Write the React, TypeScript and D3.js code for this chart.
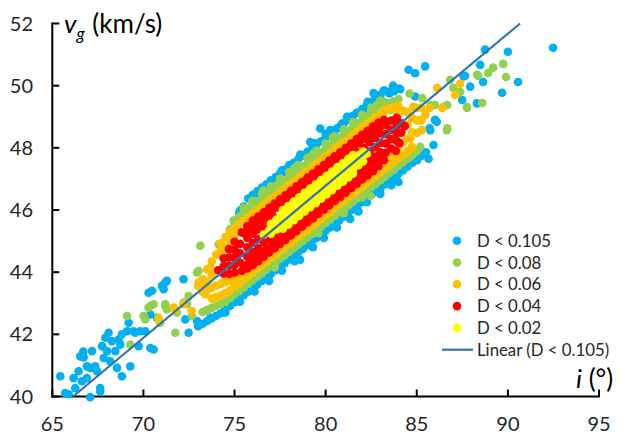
import React from 'react';
import * as d3 from 'd3';

type Pt = [number, number];

// axis ticks
const xTicks = [65, 70, 75, 80, 85, 90, 95];
const yTicks = [40, 42, 44, 46, 48, 50, 52];

// D < 0.105 (outer ring + tails)
const blue: Pt[] = [
  [75.25,45.91],[75.5,46.11],[75.75,46.37],[76,46.49],[76.25,46.6],[76.5,46.72],[76.75,46.83],[77,46.95],[77.25,47.06],[77.5,47.18],[77.75,47.29],[78,47.41],[78.25,47.52],[78.5,47.64],[78.75,47.75],[79,47.87],[79.25,47.98],[79.5,48.1],[79.75,48.21],[80,48.33],[80.25,48.44],[80.5,48.56],[80.75,48.67],[81,48.79],[81.25,48.9],[81.5,49.02],[81.75,49.13],[82,49.25],[82.25,49.36],[82.5,49.48],[82.75,49.59],[83,49.71],[83.25,49.82],[83.5,49.75],[83.75,49.82],[84,49.9],
  [73,42.26],[73.25,42.34],[73.5,42.43],[73.75,42.51],[74,42.6],[74.25,42.68],[74.5,42.8],[74.75,42.91],[75,43.03],[75.25,43.14],[75.5,43.26],[75.75,43.37],[76,43.49],[76.25,43.6],[76.5,43.72],[76.75,43.83],[77,43.95],[77.25,44.06],[77.5,44.18],[77.75,44.29],[78,44.41],[78.25,44.52],[78.5,44.64],[78.75,44.75],[79,44.87],[79.25,44.98],[79.5,45.1],[79.75,45.21],[80,45.33],[80.25,45.44],[80.5,45.56],[80.75,45.67],[81,45.79],[81.25,45.9],[81.5,46.02],[81.75,46.13],[82,46.25],[82.25,46.36],[82.5,46.48],[82.75,46.59],[83,46.71],[83.25,46.82],[83.5,46.94],[83.75,47.05],[84,47.17],[84.25,47.28],[84.5,47.4],[84.75,47.51],[85,47.63],[85.25,47.74],[85.5,47.86],
  [77.6,47.28],[78.24,47.49],[79.15,48.19],[79.7,48.62],[81.17,49.0],[80.25,48.57],[80.62,48.62],[81.35,49.0],[82.08,49.16],[82.54,49.43],[82.63,49.76],[82.99,49.65],[83.54,49.81],[84.09,49.89],[77,46.95],[78,47.45],[78.6,47.78],[79.4,48.15],[80,48.45],[80.9,48.78],[81.7,49.13],[82.3,49.48],[83.2,49.85],[83.7,50.0],[75.31,45.98],[76.41,46.47],[77.69,47.22],
  [78.3,44.35],[78.6,44.4],[80.62,45.44],[81.35,45.71],[82.26,46.25],[83,46.52],[82.9,46.68],[84,46.9],[82.99,46.63],[85.01,47.6],[85.65,47.65],[85.92,48.09],[74.5,42.7],[75.3,43.05],[76.1,43.38],[76.9,43.72],[77.6,44.05],[79.3,44.8],[79.9,45.1],[81.8,45.95],[83.6,46.8],[73.67,42.53],[74.31,42.97],
  [84.55,50.51],[84.91,50.4],[85.46,50.62],[84.91,49.65],[87.57,50.3],[87.93,49.97],[88.3,49.43],[86.1,48.84],[85.74,48.57],[88.75,51.16],[90,51.09],[92.48,51.22],[88.48,50.67],[87.65,50.32],[88.64,50.12],[90.56,50.12],[89.68,49.77],[87.49,49.54],[86,48.9],[85.7,48.63],
  [65.44,40.65],[65.71,40.11],[66.17,40.59],[66.26,40.27],[66.44,40.81],[66.63,40.49],[66.72,41.26],[66.9,40.97],[66.9,40.59],[67.08,40.92],[67.18,41.46],[67.36,40.97],[67.45,40.81],[67.63,40.27],[67.73,41.62],[67.82,41.24],[67.91,41.89],[68,41.46],[68.09,42.05],[68.18,41.13],[68.27,41.78],[68.46,41.46],[68.55,40.92],[68.64,41.83],[68.73,41.67],[68.82,40.65],[68.82,42],[69.1,42.1],[69.19,42.37],[69.28,40.97],[69.46,42.1],[69.55,42.05],[69.74,41.62],[69.83,42.1],[70.1,42.1],[70.28,43.34],[70.38,41.56],[70.56,41.51],[70.74,42.53],[71.02,43.56],[71.2,43.67],[71.29,43.72],[72.2,43.77],[72.3,42.48],[72.48,42.05],[72.94,42.43],[65.9,40.07],[67.08,39.98],[67.63,40.16],[66.54,41.29],[66.7,41.45],[71.11,43.45],[70.47,43.4],[70.38,42.64],
];

// D < 0.08
const green: Pt[] = [
  [74.75,45.38],[75,45.58],[75.25,45.79],[75.5,45.91],[75.75,46.02],[76,46.14],[76.25,46.25],[76.5,46.37],[76.75,46.48],[77,46.6],[77.25,46.71],[77.5,46.83],[77.75,46.94],[78,47.06],[78.25,47.17],[78.5,47.29],[78.75,47.4],[79,47.52],[79.25,47.63],[79.5,47.75],[79.75,47.86],[80,47.98],[80.25,48.09],[80.5,48.21],[80.75,48.32],[81,48.44],[81.25,48.55],[81.5,48.67],[81.75,48.78],[82,48.9],[82.25,49.01],[82.5,49.13],[82.75,49.24],[83,49.36],[83.25,49.47],[83.5,49.44],[83.75,49.5],[84,49.57],
  [75.5,46.07],[76,46.3],[76.5,46.53],[77,46.76],[77.5,46.99],[78,47.22],[78.5,47.45],[79,47.68],[79.5,47.91],[80,48.14],[80.5,48.37],[81,48.6],[81.5,48.83],[82,49.06],[82.5,49.29],[83,49.52],
  [73.25,42.72],[73.5,42.79],[73.75,42.85],[74,42.92],[74.25,42.98],[74.5,43.05],[74.75,43.16],[75,43.28],[75.25,43.39],[75.5,43.51],[75.75,43.62],[76,43.74],[76.25,43.85],[76.5,43.97],[76.75,44.08],[77,44.2],[77.25,44.31],[77.5,44.43],[77.75,44.54],[78,44.66],[78.25,44.77],[78.5,44.89],[78.75,45],[79,45.12],[79.25,45.23],[79.5,45.35],[79.75,45.46],[80,45.58],[80.25,45.69],[80.5,45.81],[80.75,45.92],[81,46.04],[81.25,46.15],[81.5,46.27],[81.75,46.38],[82,46.5],[82.25,46.61],[82.5,46.73],[82.75,46.84],[83,46.96],[83.25,47.07],[83.5,47.19],[83.75,47.3],[84,47.42],[84.25,47.53],[84.5,47.65],[84.75,47.76],[85,47.88],
  [76.59,46.63],[77.51,47.01],[74.95,45.66],[78.3,47.35],[79.3,47.8],[80.4,48.33],[81.5,48.82],[77.2,44.15],[79.6,45.25],[81,45.9],[82.0,46.4],[82.45,46.45],[84.64,47.71],[85.19,48.03],[75.95,46.25],[75.68,45.77],[77.33,46.79],[82.81,49.38],[83.54,49.22],
  [85.74,49.38],[86.47,49.32],[86.65,48.57],[87.29,49.76],[87.75,49.32],[88.3,50.35],[89.74,50.7],[89.19,50.58],[88.92,50.41],[88.37,50.32],[89.9,50.28],[86.83,50.19],[87,49.93],[87.38,49.8],[88.59,49.44],[87.76,49.28],[86,49.38],[86.67,49.38],[86.67,48.63],[85.3,49.6],[84.6,49.75],
  [69.1,42.59],[69.28,41.67],[70.01,42.59],[70.1,42.48],[70.28,42.86],[70.38,42.91],[70.92,42.37],[71.2,42.97],[71.29,42.8],[71.75,42.05],[71.84,42.7],[72.39,42.97],[72.48,43.23],[72.66,42.59],[72.94,43.99],[73.12,44.85],[73.03,44.04],[74.13,44.9],[74.77,45.34],[70.56,42.97],[71.2,42.91],[72.21,43.02],[73.49,42.75],
];

// D < 0.06
const orange: Pt[] = [
  [74.25,44.93],[74.5,45.13],[74.75,45.31],[75,45.43],[75.25,45.54],[75.5,45.66],[75.75,45.77],[76,45.89],[76.25,46],[76.5,46.12],[76.75,46.23],[77,46.35],[77.25,46.46],[77.5,46.58],[77.75,46.69],[78,46.81],[78.25,46.92],[78.5,47.04],[78.75,47.15],[79,47.27],[79.25,47.38],[79.5,47.5],[79.75,47.61],[80,47.73],[80.25,47.84],[80.5,47.96],[80.75,48.07],[81,48.19],[81.25,48.3],[81.5,48.42],[81.75,48.53],[82,48.65],[82.25,48.76],[82.5,48.88],[82.75,48.99],[83,49.11],[83.25,49.22],[83.5,49.27],[83.75,49.3],[84,49.34],
  [73.75,43.15],[74,43.2],[74.25,43.25],[74.5,43.33],[74.75,43.41],[75,43.53],[75.25,43.64],[75.5,43.76],[75.75,43.87],[76,43.99],[76.25,44.1],[76.5,44.22],[76.75,44.33],[77,44.45],[77.25,44.56],[77.5,44.68],[77.75,44.79],[78,44.91],[78.25,45.02],[78.5,45.14],[78.75,45.25],[79,45.37],[79.25,45.48],[79.5,45.6],[79.75,45.71],[80,45.83],[80.25,45.94],[80.5,46.06],[80.75,46.17],[81,46.29],[81.25,46.4],[81.5,46.52],[81.75,46.63],[82,46.75],[82.25,46.86],[82.5,46.98],[82.75,47.09],[83,47.21],[83.25,47.32],[83.5,47.44],[83.75,47.55],[84,47.67],[84.25,47.78],[84.5,47.9],[84.75,48.01],
  [73,43.56],[73.25,43.77],[73.25,43.37],[73.5,44.09],[73.5,43.69],[73.5,43.44],[73.75,44.35],[73.75,43.9],[73.75,43.5],[74,44.57],[74,43.57],[74.25,44.63],[74.25,43.63],[74.5,44.8],[74.5,43.68],[74.75,45],[74.75,43.73],[75,45.17],[75,43.78],[75.25,45.3],[75.25,43.88],
  [74.22,44.69],[74.49,44.47],[74.77,45.17],[73.67,44.15],[73.21,43.61],[73.39,43.29],
  [83.5,47.69],[83.75,47.8],[83.75,47.9],[84,48.02],[84.25,48.18],[84.5,48.3],[84.5,48.75],[84.75,48.5],[84.75,48.96],[85,48.48],[85,48.88],[85,49.28],[85.25,48.89],[85.25,49.29],[85.5,49.21],[84.5,49.15],[84.25,49.2],[84,49.1],
  [86.12,49.93],[87.38,50.06],[87.1,49.7],[86.39,49.28],[85.7,49.28],[85.47,49.06],[85.2,48.9],[85.28,48.57],[84.64,48.3],[84.73,48.03],[83.91,49.16],[84.82,49.32],[83.18,49.11],
  [70.83,42.48],[71.75,42.8],[72.2,42.97],[72.66,42.75],[73.03,43.67],[71.66,42.86],[70.83,42.53],
];

// D < 0.04
const red: Pt[] = [
  [75.4,45.28],[75.7,45.48],[76,45.66],[76.3,45.79],[76.6,45.93],[76.9,46.07],[77.2,46.21],[77.5,46.35],[77.8,46.48],[78.1,46.62],[78.4,46.76],[78.7,46.9],[79,47.04],[79.3,47.17],[79.6,47.31],[79.9,47.45],[80.2,47.59],[80.5,47.73],[80.8,47.86],[81.1,48],[81.4,48.14],[81.7,48.28],[82,48.42],[82.3,48.55],[82.6,48.69],[82.9,48.81],[83.2,48.9],
  [75.4,44.04],[75.7,44.12],[76,44.22],[76.3,44.35],[76.6,44.49],[76.9,44.63],[77.2,44.77],[77.5,44.91],[77.8,45.04],[78.1,45.18],[78.4,45.32],[78.7,45.46],[79,45.6],[79.3,45.73],[79.6,45.87],[79.9,46.01],[80.2,46.15],[80.5,46.29],[80.8,46.42],[81.1,46.56],[81.4,46.7],[81.7,46.84],[82,46.98],[82.3,47.11],[82.6,47.25],[82.9,47.41],[83.2,47.6],
  [75.55,45.25],[75.85,45.39],[76.15,45.53],[76.45,45.66],[76.75,45.8],[77.05,45.94],[77.35,46.08],[77.65,46.22],[77.95,46.35],[78.25,46.49],[78.55,46.63],[78.85,46.77],[79.15,46.91],[79.45,47.04],[79.75,47.18],[80.05,47.32],[80.35,47.46],[80.65,47.6],[80.95,47.73],[81.25,47.87],[81.55,48.01],[81.85,48.15],[82.15,48.29],[82.45,48.42],[82.75,48.56],[83.05,48.7],
  [75.55,44.21],[75.85,44.35],[76.15,44.49],[76.45,44.62],[76.75,44.76],[77.05,44.9],[77.35,45.04],[77.65,45.18],[77.95,45.31],[78.25,45.45],[78.55,45.59],[78.85,45.73],[79.15,45.87],[79.45,46],[79.75,46.14],[80.05,46.28],[80.35,46.42],[80.65,46.56],[80.95,46.69],[81.25,46.83],[81.55,46.97],[81.85,47.11],[82.15,47.25],[82.45,47.38],[82.75,47.52],[83.05,47.66],
  [74.1,44.06],[74.4,43.95],[74.4,44.2],[74.4,44.45],[74.7,43.94],[74.7,44.21],[74.7,44.47],[74.7,44.74],[75,43.98],[75,44.23],[75,44.48],[75,44.73],[75,44.98],[75.3,44.31],[75.3,44.61],[75.3,44.91],[75.7,44.5],[75.7,44.8],[75.7,45.1],[76,44.64],[76,44.94],[76,45.24],[76.3,44.77],[76.3,45.07],[76.3,45.37],[76.6,44.96],[76.6,45.46],[76.9,45.1],[76.9,45.6],[77.2,45.24],[77.2,45.74],
  [81.8,47.35],[81.8,47.85],[82.1,47.49],[82.1,47.99],[82.4,47.58],[82.4,47.88],[82.4,48.18],[82.7,47.72],[82.7,48.02],[82.7,48.32],[83,47.86],[83,48.16],[83,48.46],[83.3,47.84],[83.3,48.14],[83.3,48.44],[83.3,48.74],[83.6,47.98],[83.6,48.28],[83.6,48.58],[83.6,48.88],[83.9,48.22],[83.9,48.47],[83.9,48.72],[83.9,48.97],[84.15,48.49],[84.15,48.79],[84.35,48.7],[83.85,47.9],[84.05,48.15],
];

// D < 0.02
const yellow: Pt[] = [
  [76.6,45.21],[76.9,45.35],[77.2,45.49],[77.5,45.63],[77.8,45.76],[78.1,45.9],[78.4,46.04],[78.7,46.18],[79,46.32],[79.3,46.45],[79.6,46.59],[79.9,46.73],[80.2,46.87],[80.5,47.01],[80.8,47.14],[81.1,47.28],[81.4,47.42],[81.7,47.56],[82,47.7],[82.25,47.81],
  [77,45.56],[77.3,45.69],[77.6,45.83],[77.9,45.97],[78.2,46.11],[78.5,46.25],[78.8,46.38],[79.1,46.52],[79.4,46.66],[79.7,46.8],[80,46.94],[80.3,47.07],[80.6,47.21],[80.9,47.35],[81.2,47.49],[81.5,47.63],[81.8,47.76],[82.05,47.88],
  [77,45.24],[77.3,45.37],[77.6,45.51],[77.9,45.65],[78.2,45.79],[78.5,45.93],[78.8,46.06],[79.1,46.2],[79.4,46.34],[79.7,46.48],[80,46.62],[80.3,46.75],[80.6,46.89],[80.9,47.03],[81.2,47.17],[81.5,47.31],[81.8,47.44],[82.05,47.56],
  [77.65,46],[77.95,46.13],[78.25,46.27],[78.55,46.41],[78.85,46.55],[79.15,46.69],[79.45,46.82],[79.75,46.96],[80.05,47.1],[80.35,47.24],[80.65,47.38],[80.95,47.51],[81.25,47.65],[81.5,47.77],
  [77.65,45.4],[77.95,45.53],[78.25,45.67],[78.55,45.81],[78.85,45.95],[79.15,46.09],[79.45,46.22],[79.75,46.36],[80.05,46.5],[80.35,46.64],[80.65,46.78],[80.95,46.91],[81.25,47.05],[81.5,47.17],
];

// linear trend line, read at its two ends
const trend: Pt[] = [[66.14, 40], [90.67, 52]];

const labels = ['D < 0.105', 'D < 0.08', 'D < 0.06', 'D < 0.04', 'D < 0.02'];
const colors = ['#00B0F0', '#92D050', '#FFC000', '#FF0000', '#FFFF00'];
const trendLabel = 'Linear (D < 0.105)';

export default function App() {
  const x = d3.scaleLinear().domain([65, 95]).range([52.3, 599]);
  const y = d3.scaleLinear().domain([40, 52]).range([396.5, 23.5]);
  const line = d3.line<Pt>().x(d => x(d[0])).y(d => y(d[1]));
  const series = [blue, green, orange, red, yellow];
  const font = 'Lato, "Open Sans", sans-serif';
  const textColor = '#262626';
  const legY0 = 240.7, legStep = 21.8;

  return (
    <svg width={621} height={435} fontFamily={font}
      style={{ position: 'absolute', left: 0, top: 0, background: '#fff' }}>
      {/* axes */}
      <g stroke="#000" strokeWidth={2}>
        <line x1={x(65)} x2={x(65)} y1={y(52) - 1} y2={y(40) + 1} />
        <line x1={x(65) - 1} x2={x(95) + 1} y1={y(40)} y2={y(40)} />
        {yTicks.map(t => <line key={'yt' + t} x1={x(65)} x2={x(65) + 7} y1={y(t)} y2={y(t)} />)}
        {xTicks.map(t => <line key={'xt' + t} x1={x(t)} x2={x(t)} y1={y(40)} y2={y(40) - 7} />)}
      </g>
      <g fill={textColor} fontSize={20}>
        {yTicks.map(t => <text key={'yl' + t} x={33} y={y(t) + 7} textAnchor="end">{t}</text>)}
        {xTicks.map(t => <text key={'xl' + t} x={x(t)} y={431} textAnchor="middle">{t}</text>)}
      </g>

      {/* points, outer band first */}
      {series.map((pts, si) => (
        <g key={si} fill={colors[si]}>
          {pts.map((d, i) => <circle key={i} cx={x(d[0])} cy={y(d[1])} r={4.3} />)}
        </g>
      ))}
      <path d={line(trend) || ''} fill="none" stroke="#2E75B6" strokeWidth={2.2} />

      {/* axis titles */}
      <text x={64} y={33} fontSize={26} fill="#000">
        <tspan fontStyle="italic">v</tspan>
        <tspan fontStyle="italic" fontSize={17} dy={7}>g</tspan>
        <tspan dy={-7} dx={1}> (km/s)</tspan>
      </text>
      <text x={576} y={388} fontSize={26} fill="#000">
        <tspan fontStyle="italic">i</tspan>
        <tspan> (°)</tspan>
      </text>

      {/* legend */}
      <g fontSize={16.8} fill={textColor}>
        {labels.map((l, i) => (
          <g key={l}>
            <circle cx={457} cy={legY0 + i * legStep} r={4.3} fill={colors[i]} />
            <text x={477} y={legY0 + i * legStep + 6}>{l}</text>
          </g>
        ))}
        <line x1={442} x2={473} y1={legY0 + 5 * legStep} y2={legY0 + 5 * legStep} stroke="#2E75B6" strokeWidth={2.2} />
        <text x={477} y={legY0 + 5 * legStep + 6}>{trendLabel}</text>
      </g>
    </svg>
  );
}
